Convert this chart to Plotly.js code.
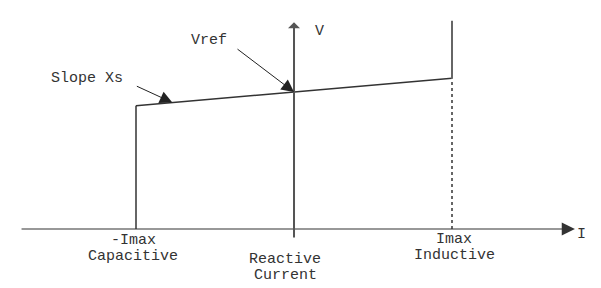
<!DOCTYPE html>
<html>
<head>
<meta charset="utf-8">
<script src="https://cdn.plot.ly/plotly-3.0.1.min.js"></script>
<style>html,body{margin:0;padding:0;background:#fff;}#chart{width:601px;height:288px;}</style>
</head>
<body>
<div id="chart"></div>
<script>
// Reactive current (per unit of Imax) and voltage (per unit of Vref)
const capLimitI = [-1, -1];
const capLimitV = [0, 0.90];
const slopeI = [-1, 1];
const slopeV = [0.90, 1.10];
const indLimitI = [1, 1];
const indLimitV = [1.10, 1.52];
const indDottedI = [1, 1];
const indDottedV = [0, 1.10];

const axisIRange = [-1.734, 1.778];   // horizontal axis extent
const axisVRange = [-0.073, 1.51];    // vertical axis extent

const tickValues = [-1, 0, 1];
const tickLines1 = ['-Imax', 'Reactive', 'Imax'];
const tickLines2 = ['Capacitive', 'Current', 'Inductive'];

const vrefPoint = {I: 0, V: 1.0, label: 'Vref'};
const slopePoint = {I: -0.77, V: 0.923, label: 'Slope Xs'};
const axisLabels = {I: 'I', V: 'V'};

const lineCol = '#555555';
const textCol = '#333333';
const fnt = {family: 'Liberation Mono, monospace', size: 15, color: textCol};

const traces = [
  {x: capLimitI, y: capLimitV, mode: 'lines', line: {color: '#666', width: 2}, hoverinfo: 'skip'},
  {x: slopeI, y: slopeV, mode: 'lines', line: {color: '#333', width: 1.5}, hoverinfo: 'skip'},
  {x: indLimitI, y: indLimitV, mode: 'lines', line: {color: '#666', width: 2}, hoverinfo: 'skip'},
  {x: indDottedI, y: indDottedV, mode: 'lines', line: {color: '#666', width: 2, dash: 'dot'}, hoverinfo: 'skip'}
];

const ann = [];
// axes with arrowheads
ann.push({x: axisIRange[1], y: 0, ax: axisIRange[0], ay: 0, xref: 'x', yref: 'y', axref: 'x', ayref: 'y',
  text: '', showarrow: true, arrowhead: 2, arrowsize: 2.2, arrowwidth: 1.2, arrowcolor: '#333'});
ann.push({x: 0, y: axisVRange[1], ax: 0, ay: axisVRange[0], xref: 'x', yref: 'y', axref: 'x', ayref: 'y',
  text: '', showarrow: true, arrowhead: 1, arrowsize: 1, arrowwidth: 2, arrowcolor: lineCol});
// axis labels
ann.push({x: axisIRange[1], y: 0, xref: 'x', yref: 'y', text: axisLabels.I, showarrow: false,
  font: fnt, xanchor: 'center', yanchor: 'middle', xshift: 7, yshift: -6});
ann.push({x: 0, y: axisVRange[1], xref: 'x', yref: 'y', text: axisLabels.V, showarrow: false,
  font: fnt, xanchor: 'center', yanchor: 'middle', xshift: 25, yshift: -9});
// tick labels
const shifts = [[-3, -12, -28], [-9, -31, -47], [2, -11, -27]];
tickValues.forEach((v, i) => {
  ann.push({x: v, y: 0, xref: 'x', yref: 'y', text: tickLines1[i], showarrow: false, font: fnt,
    xanchor: 'center', yanchor: 'middle', xshift: shifts[i][0], yshift: shifts[i][1]});
  ann.push({x: v, y: 0, xref: 'x', yref: 'y', text: tickLines2[i], showarrow: false, font: fnt,
    xanchor: 'center', yanchor: 'middle', xshift: shifts[i][0], yshift: shifts[i][2]});
});
// pointer arrows
ann.push({x: vrefPoint.I, y: vrefPoint.V, xref: 'x', yref: 'y', text: '', showarrow: true,
  ax: -58, ay: -44, arrowhead: 2, arrowsize: 2.5, arrowwidth: 1, arrowcolor: '#222'});
ann.push({x: vrefPoint.I, y: vrefPoint.V, xref: 'x', yref: 'y', text: vrefPoint.label, showarrow: false,
  font: fnt, xanchor: 'center', yanchor: 'middle', xshift: -85, yshift: 52});
ann.push({x: slopePoint.I, y: slopePoint.V, xref: 'x', yref: 'y', text: '', showarrow: true,
  ax: -37, ay: -17, arrowhead: 2, arrowsize: 2.5, arrowwidth: 1, arrowcolor: '#222'});
ann.push({x: slopePoint.I, y: slopePoint.V, xref: 'x', yref: 'y', text: slopePoint.label, showarrow: false,
  font: fnt, xanchor: 'center', yanchor: 'middle', xshift: -85, yshift: 24});

const layout = {
  width: 601, height: 288,
  margin: {l: 0, r: 0, t: 0, b: 0},
  paper_bgcolor: '#fff', plot_bgcolor: '#fff',
  showlegend: false,
  xaxis: {range: [-1.8608, 1.9430], visible: false, fixedrange: true},
  yaxis: {range: [-0.4307, 1.6715], visible: false, fixedrange: true},
  annotations: ann
};
Plotly.newPlot('chart', traces, layout, {staticPlot: true, displayModeBar: false});
</script>
</body>
</html>
